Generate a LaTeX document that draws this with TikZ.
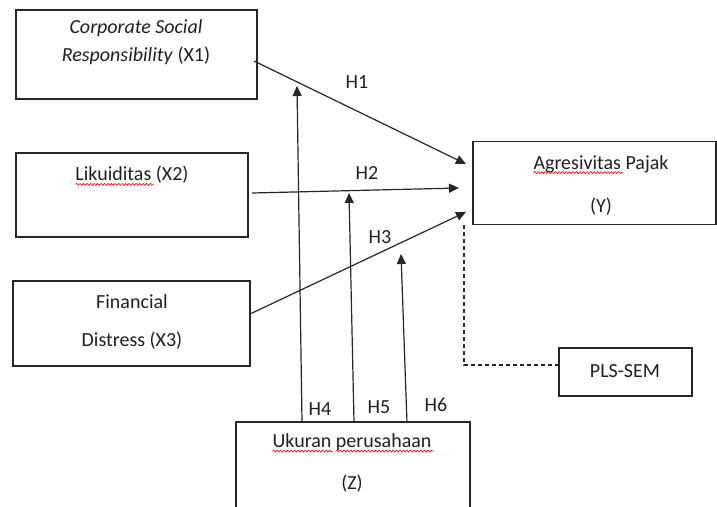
\documentclass[tikz,border=0pt]{standalone}
\usepackage{fontspec}
\setmainfont{Carlito}
\usetikzlibrary{arrows.meta,decorations.pathmorphing}
\newcommand\redwave[1]{\tikz[baseline=(w.base)]{\node[inner sep=0pt, outer sep=0pt] (w) {#1}; \draw[overlay, red, line width=0.6pt, decorate, decoration={snake,amplitude=1pt,segment length=3.5pt}] ([yshift=-3.5pt]w.base west) -- ([yshift=-3.5pt,xshift=2pt]w.base east);}}
\begin{document}
\begin{tikzpicture}[x=1pt,y=-1pt,
  box/.style={draw=black!85, line width=1.3pt, inner sep=0pt},
  lbl/.style={font=\fontsize{20}{24}\selectfont, text=black!88, inner sep=0pt, align=center},
  arr/.style={draw=black!85, line width=1.2pt, -{Triangle[length=10pt,width=9pt]}},
  dash line/.style={draw=black!85, line width=1.1pt, dash pattern=on 4pt off 3pt}]
\useasboundingbox (0,0) rectangle (717,506);
\clip (0,0) rectangle (717,506);
% boxes
\node[box, minimum width=241pt, minimum height=89pt] (x1) at (136.5,54.5) {};
\node[box, minimum width=232pt, minimum height=84pt] (x2) at (132,195) {};
\node[box, minimum width=237pt, minimum height=85pt] (x3) at (131.5,323.5) {};
\node[box, minimum width=243pt, minimum height=83pt] (y) at (594.5,183) {};
\node[box, minimum width=133pt, minimum height=48pt] (pls) at (625.5,372) {};
\node[box, minimum width=234pt, minimum height=100pt] (z) at (353,472) {};
% texts
\node[lbl, font=\fontsize{20}{28}\selectfont] (tx1) at (136,42) {\textit{Corporate Social}\\\textit{Responsibility} (X1)};
\node[lbl] (tx2) at (132,175) {\redwave{Likuiditas} (X2)};
\node[lbl, font=\fontsize{20}{38}\selectfont] (tx3) at (132,322) {Financial\\Distress (X3)};
\node[lbl, font=\fontsize{20}{43}\selectfont] (ty) at (601,185) {\redwave{Agresivitas} Pajak\\(Y)};
\node[lbl] (tpls) at (625,371) {PLS-SEM};
\node[lbl, font=\fontsize{20}{42}\selectfont] (tz) at (352,463) {\redwave{Ukuran} \redwave{perusahaan}\\(Z)};
% hypothesis labels
\node[lbl] (h1) at (357,82) {H1};
\node[lbl] (h2) at (367,173) {H2};
\node[lbl] (h3) at (380,237) {H3};
\node[lbl] (h4) at (320,409) {H4};
\node[lbl] (h5) at (379,407) {H5};
\node[lbl] (h6) at (436,405) {H6};
% connector ends
\coordinate (s1) at (254,61);
\coordinate (e1) at (466,164);
\coordinate (s2) at (252,193);
\coordinate (e2) at (459,188);
\coordinate (s3) at (250,314);
\coordinate (e3) at (466,212);
\coordinate (s4) at (302,422);
\coordinate (e4) at (297,86);
\coordinate (s5) at (354,422);
\coordinate (e5) at (349,193);
\coordinate (s6) at (407,423);
\coordinate (e6) at (401,254);
\coordinate (d0) at (464,225);
\coordinate (d1) at (464,365);
% arrows
\draw[arr] (s1) -- (e1);
\draw[arr] (s2) -- (e2);
\draw[arr] (s3) -- (e3);
\draw[arr] (s4) -- (e4);
\draw[arr] (s5) -- (e5);
\draw[arr] (s6) -- (e6);
\draw[dash line] (d0) -- (d1) -- (d1 -| pls.west);
\end{tikzpicture}
\end{document}
